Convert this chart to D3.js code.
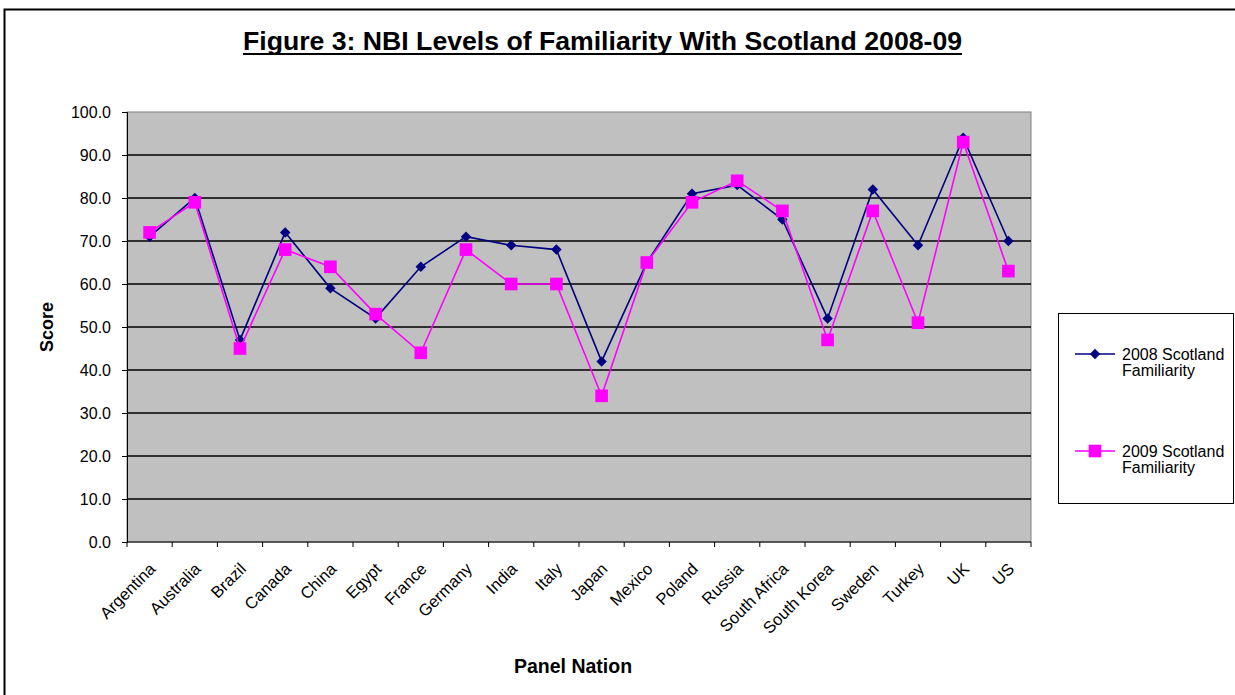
<!DOCTYPE html>
<html lang="en">
<head>
  <meta charset="UTF-8">
  <title>NBI Levels of Familiarity With Scotland 2008-09</title>
  <script src="https://d3js.org/d3.v7.min.js"></script>
  <style>
    body { margin: 0; background: #fff; }
    svg { display: block; font-family: "Liberation Sans", Arial, sans-serif; }
  </style>
</head>
<body>
<svg width="1235" height="695"></svg>

<script>
  const nations = ["Argentina", "Australia", "Brazil", "Canada", "China", "Egypt", "France", "Germany",
    "India", "Italy", "Japan", "Mexico", "Poland", "Russia", "South Africa", "South Korea",
    "Sweden", "Turkey", "UK", "US"];
  const fam2008 = [71, 80, 47, 72, 59, 52, 64, 71, 69, 68, 42, 65, 81, 83, 75, 52, 82, 69, 94, 70];
  const fam2009 = [72, 79, 45, 68, 64, 53, 44, 68, 60, 60, 34, 65, 79, 84, 77, 47, 77, 51, 93, 63];
  const yTicks = [0, 10, 20, 30, 40, 50, 60, 70, 80, 90, 100];

  const svg = d3.select("svg");
  const plotL = 127, plotR = 1031, plotT = 112, plotB = 542;

  // outer frame
  svg.append("rect")
    .attr("x", 4.5).attr("y", 9.5)
    .attr("width", 1240).attr("height", 700)
    .attr("fill", "none").attr("stroke", "#000").attr("stroke-width", 2);

  const x = d3.scaleBand().domain(nations).range([plotL, plotR]);
  const y = d3.scaleLinear().domain([0, 100]).range([plotB, plotT]);

  // plot area
  svg.append("rect")
    .attr("x", plotL).attr("y", plotT)
    .attr("width", plotR - plotL).attr("height", plotB - plotT)
    .attr("fill", "#c0c0c0").attr("stroke", "#808080");

  // gridlines
  svg.append("g").selectAll("line")
    .data(yTicks.filter(d => d > 0 && d < 100))
    .join("line")
    .attr("x1", plotL).attr("x2", plotR)
    .attr("y1", d => y(d)).attr("y2", d => y(d))
    .attr("stroke", "#000").attr("stroke-width", 1.3);

  // y axis
  const yAxis = svg.append("g")
    .attr("transform", `translate(${plotL},0)`)
    .call(d3.axisLeft(y).tickValues(yTicks).tickFormat(d3.format(".1f")).tickSize(5).tickPadding(11));
  yAxis.select(".domain").attr("stroke", "#000");
  yAxis.selectAll("text").attr("font-size", 16).attr("fill", "#000")
    .attr("font-family", "Liberation Sans, Arial, sans-serif");

  // x axis, ticks sit between categories
  const xg = svg.append("g").attr("transform", `translate(0,${plotB})`);
  xg.append("line").attr("x1", plotL).attr("x2", plotR).attr("stroke", "#000");
  xg.selectAll("line.tick")
    .data(d3.range(nations.length + 1))
    .join("line")
    .attr("class", "tick")
    .attr("x1", i => plotL + i * x.bandwidth()).attr("x2", i => plotL + i * x.bandwidth())
    .attr("y1", 0).attr("y2", 5).attr("stroke", "#000");
  xg.selectAll("text")
    .data(nations)
    .join("text")
    .attr("transform", d => `translate(${x(d) + x.bandwidth() / 2 + 7},28) rotate(-45)`)
    .attr("text-anchor", "end")
    .attr("font-size", 16.5)
    .text(d => d);

  const cx = d => x(d) + x.bandwidth() / 2;

  const line = d3.line().x(d => cx(d[0])).y(d => y(d[1]));

  const series = [
    { name: ["2008 Scotland", "Familiarity"], values: fam2008, color: "#000080", shape: d3.symbolDiamond2, size: 70 },
    { name: ["2009 Scotland", "Familiarity"], values: fam2009, color: "#ff00ff", shape: d3.symbolSquare, size: 160 }
  ];

  series.forEach(s => {
    const pts = nations.map((n, i) => [n, s.values[i]]);
    svg.append("path")
      .datum(pts)
      .attr("d", line)
      .attr("fill", "none")
      .attr("stroke", s.color)
      .attr("stroke-width", 1.6);
    svg.append("g").selectAll("path")
      .data(pts)
      .join("path")
      .attr("d", d3.symbol().type(s.shape).size(s.size))
      .attr("transform", d => `translate(${cx(d[0])},${y(d[1])})`)
      .attr("fill", s.color);
  });

  // title + underline
  svg.append("text")
    .attr("x", 243).attr("y", 50)
    .attr("font-size", 25).attr("font-weight", "bold")
    .attr("textLength", 719).attr("lengthAdjust", "spacingAndGlyphs")
    .text("Figure 3: NBI Levels of Familiarity With Scotland 2008-09");
  svg.append("line")
    .attr("x1", 243).attr("x2", 962)
    .attr("y1", 54).attr("y2", 54)
    .attr("stroke", "#000").attr("stroke-width", 2);

  // axis titles
  svg.append("text")
    .attr("transform", "translate(53,327) rotate(-90)")
    .attr("text-anchor", "middle")
    .attr("font-size", 18).attr("font-weight", "bold")
    .text("Score");

  svg.append("text")
    .attr("x", 573).attr("y", 673)
    .attr("text-anchor", "middle")
    .attr("font-size", 19.5).attr("font-weight", "bold")
    .text("Panel Nation");

  // legend
  const lg = svg.append("g");
  lg.append("rect")
    .attr("x", 1058.5).attr("y", 313.5)
    .attr("width", 175).attr("height", 190)
    .attr("fill", "#fff").attr("stroke", "#000");
  const legendY = [354, 451];
  series.forEach((s, i) => {
    const ly = legendY[i];
    lg.append("line")
      .attr("x1", 1075).attr("x2", 1115)
      .attr("y1", ly).attr("y2", ly)
      .attr("stroke", s.color).attr("stroke-width", 1.6);
    lg.append("path")
      .attr("d", d3.symbol().type(s.shape).size(s.size))
      .attr("transform", `translate(1095,${ly})`)
      .attr("fill", s.color);
    lg.append("text")
      .attr("x", 1122).attr("y", ly + 6)
      .attr("font-size", 16)
      .text(s.name[0]);
    lg.append("text")
      .attr("x", 1122).attr("y", ly + 22)
      .attr("font-size", 16)
      .text(s.name[1]);
  });
</script>
</body>
</html>
